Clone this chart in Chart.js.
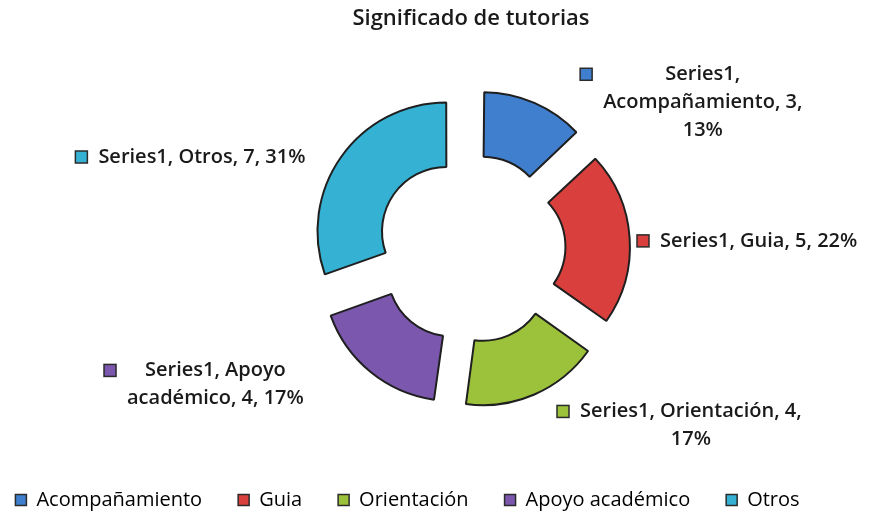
<!DOCTYPE html>
<html>
<head>
<meta charset="utf-8">
<script src="https://cdn.jsdelivr.net/npm/chart.js@4.4.1/dist/chart.umd.min.js"></script>
<style>
  html, body { margin: 0; padding: 0; background: #fff; }
</style>
</head>
<body>
<canvas id="donut" width="873" height="516"></canvas>
<script>
const categories = ["Acompañamiento", "Guia", "Orientación", "Apoyo académico", "Otros"];
const values = [3, 5, 4, 4, 7];
const percents = [13, 22, 17, 17, 31];
const seriesName = "Series1";
const colors = ["#3f7fce", "#d9403d", "#9cc13a", "#7b58ae", "#35b2d3"];

const FONT = "'Open Sans', sans-serif";

// where each data label block sits, relative to the outer middle of its slice
const labelPlace = [
  { dx: 49, dy: -36, align: "left", wrap: 210 },
  { dx: 8, dy: 3, align: "left", wrap: 260 },
  { dx: 24, dy: 20, align: "left", wrap: 235 },
  { dx: -69, dy: 1, align: "right", wrap: 185 },
  { dx: -37, dy: -1, align: "right", wrap: 260 },
];

function wrapText(ctx, text, maxW) {
  const words = text.split(" ");
  const lines = [];
  let cur = "";
  words.forEach(function (w) {
    const test = cur ? cur + " " + w : w;
    if (cur && ctx.measureText(test).width > maxW) {
      lines.push(cur);
      cur = w;
    } else {
      cur = test;
    }
  });
  if (cur) lines.push(cur);
  return lines;
}

// keep the chart area off the left edge, but let title + legend use the full width
const leftSpacer = {
  id: "leftSpacer",
  start(chart) {
    Chart.layouts.addBox(chart, {
      position: "left",
      weight: 0,
      fullSize: false,
      options: {},
      left: 0, top: 0, right: 0, bottom: 0, width: 0, height: 0,
      isHorizontal() { return false; },
      update(maxWidth, maxHeight) { this.width = 127; this.height = maxHeight; },
      draw() {},
    });
  }
};

// exploded arcs get their radius pushed out a bit by Chart.js; undo that so every ring is even
const evenRing = {
  id: "evenRing",
  afterDatasetUpdate(chart, args) {
    args.meta.data.forEach(function (arc) {
      const off = (arc.options.offset || 0) / 4;
      const circ = arc.endAngle - arc.startAngle;
      const ro = off * (1 - Math.sin(Math.min(Math.PI, circ)));
      arc.outerRadius -= ro;
      arc.innerRadius -= ro;
    });
  }
};

const dataLabels = {
  id: "dataLabels",
  afterDatasetsDraw(chart) {
    const ctx = chart.ctx;
    const meta = chart.getDatasetMeta(0);
    ctx.save();
    ctx.font = "600 20px " + FONT;
    ctx.textBaseline = "middle";
    meta.data.forEach(function (arc, i) {
      const p = arc.getProps(["x", "y", "startAngle", "endAngle", "outerRadius"], true);
      const mid = (p.startAngle + p.endAngle) / 2;
      const r = p.outerRadius + arc.options.offset / 4;
      const ax = p.x + Math.cos(mid) * r;
      const ay = p.y + Math.sin(mid) * r;
      const place = labelPlace[i];
      const text = seriesName + ", " + categories[i] + ", " + values[i] + ", " + percents[i] + "%";
      const lines = wrapText(ctx, text, place.wrap);
      const blockW = Math.max.apply(null, lines.map(l => ctx.measureText(l).width));
      const box = 12, gap = 11, lh = 28;
      const total = box + gap + blockW;
      const left = place.align === "left" ? ax + place.dx : ax + place.dx - total;
      const y0 = ay + place.dy;
      // small coloured key square
      ctx.fillStyle = colors[i];
      ctx.fillRect(left, y0 - box / 2, box, box);
      ctx.strokeStyle = "#2b2b2b";
      ctx.lineWidth = 1.5;
      ctx.strokeRect(left, y0 - box / 2, box, box);
      ctx.fillStyle = "#1a1a1a";
      ctx.textAlign = "center";
      const cx = left + box + gap + blockW / 2;
      lines.forEach(function (l, k) {
        ctx.fillText(l, cx, y0 + k * lh);
      });
    });
    ctx.restore();
  }
};

new Chart(document.getElementById("donut"), {
  type: "doughnut",
  data: {
    labels: categories,
    datasets: [{
      data: values,
      backgroundColor: colors,
      borderColor: "#1f1f1f",
      borderWidth: 2,
      offset: 120,
      hoverOffset: 120,
    }],
  },
  plugins: [leftSpacer, evenRing, dataLabels],
  options: {
    responsive: false,
    animation: false,
    radius: 129,
    cutout: "50%",
    layout: {
      // legend sits a little left of the page centre in the original
      padding: { left: -29, right: 29, top: 0, bottom: -4 },
    },
    plugins: {
      title: {
        display: true,
        fullSize: false,
        text: "Significado de tutorias",
        color: "#1a1a1a",
        font: { size: 22, weight: "600", family: FONT },
        padding: { top: 6, bottom: 11 },
      },
      legend: {
        position: "bottom",
        labels: {
          color: "#1a1a1a",
          font: { size: 20, family: FONT },
          boxWidth: 11,
          boxHeight: 11,
          padding: 36,
          generateLabels: function (chart) {
            return categories.map(function (c, i) {
              return {
                text: c,
                fillStyle: colors[i],
                strokeStyle: "#2b2b2b",
                lineWidth: 1.5,
                index: i,
              };
            });
          },
        },
      },
      tooltip: { enabled: false },
    },
  },
});
</script>
</body>
</html>
